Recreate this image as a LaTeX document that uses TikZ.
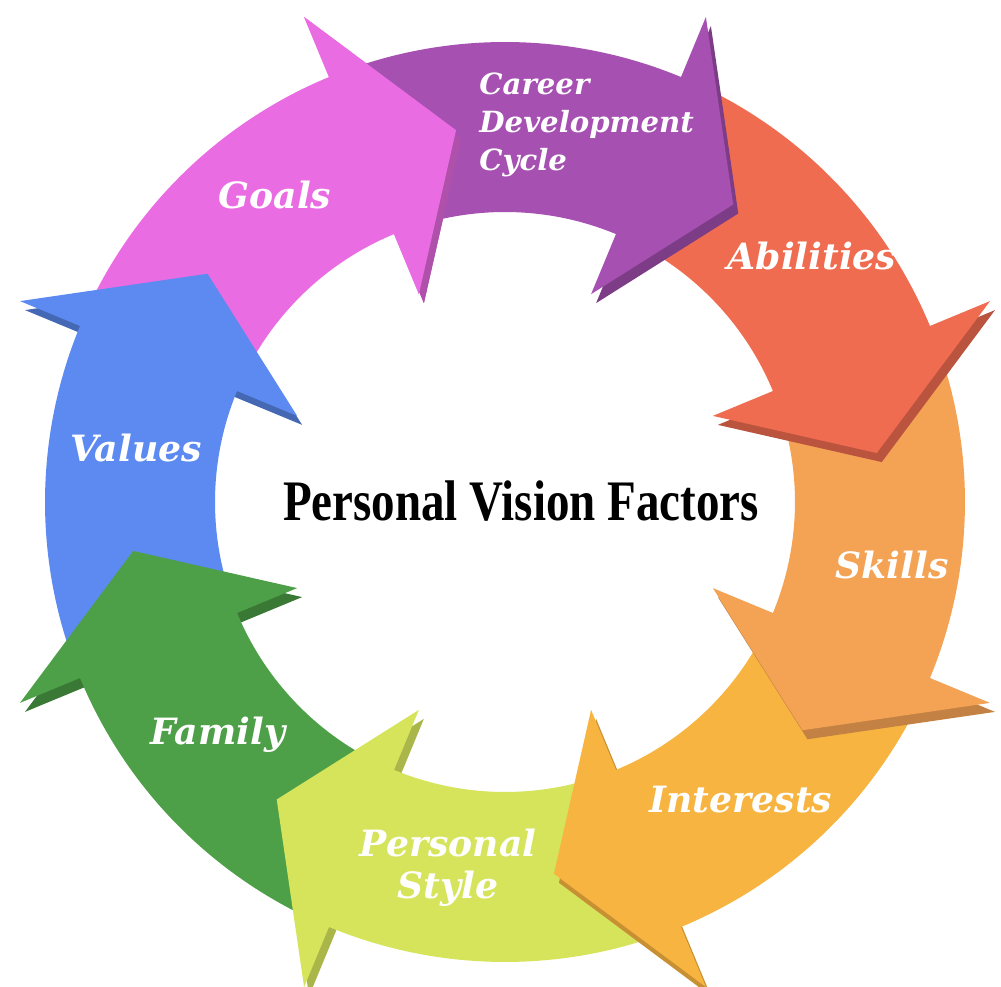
\documentclass[tikz,border=0pt]{standalone}
\usepackage{fontspec}
\newfontfamily\titlefont[FakeStretch=0.82]{Liberation Serif}
\newfontfamily\facfont{DejaVu Serif}
\definecolor{goalscol}{RGB}{234,108,226}
\definecolor{careercol}{RGB}{166,80,178}
\definecolor{abilcol}{RGB}{239,108,80}
\definecolor{skillcol}{RGB}{244,162,84}
\definecolor{intercol}{RGB}{247,180,64}
\definecolor{stylecol}{RGB}{214,228,92}
\definecolor{familycol}{RGB}{78,160,72}
\definecolor{valuecol}{RGB}{92,138,240}
\tikzset{
  side/.style={shift={(0.05,-0.09)}},
  fac/.style={text=white, font=\facfont\fontsize{10.3}{12}\selectfont\bfseries\itshape},
}
\begin{document}
\begin{tikzpicture}
\useasboundingbox (-5.05,-4.85) rectangle (4.96,5.02);
% goals
\fill[side, goalscol!75!black] (112.5:5.25) -- (97.5:3.75) -- (112.5:2.25) -- cycle;
\fill[goalscol] (155.5:4.6) arc[start angle=155.5, end angle=112.5, radius=4.6] -- (112.5:5.25) -- (97.5:3.75) -- (112.5:2.25) -- (112.5:2.9) arc[start angle=112.5, end angle=155.5, radius=2.9] -- cycle;
% values
\fill[side, valuecol!75!black] (157.5:5.25) -- (142.5:3.75) -- (157.5:2.25) -- cycle;
\fill[valuecol] (200.5:4.6) arc[start angle=200.5, end angle=157.5, radius=4.6] -- (157.5:5.25) -- (142.5:3.75) -- (157.5:2.25) -- (157.5:2.9) arc[start angle=157.5, end angle=200.5, radius=2.9] -- cycle;
% family
\fill[side, familycol!75!black] (202.5:5.25) -- (187.5:3.75) -- (202.5:2.25) -- cycle;
\fill[familycol] (245.5:4.6) arc[start angle=245.5, end angle=202.5, radius=4.6] -- (202.5:5.25) -- (187.5:3.75) -- (202.5:2.25) -- (202.5:2.9) arc[start angle=202.5, end angle=245.5, radius=2.9] -- cycle;
% personal style
\fill[side, stylecol!80!black] (247.5:5.25) -- (232.5:3.75) -- (247.5:2.25) -- cycle;
\fill[stylecol] (290.5:4.6) arc[start angle=290.5, end angle=247.5, radius=4.6] -- (247.5:5.25) -- (232.5:3.75) -- (247.5:2.25) -- (247.5:2.9) arc[start angle=247.5, end angle=290.5, radius=2.9] -- cycle;
% interests
\fill[side, intercol!80!black] (292.5:5.25) -- (277.5:3.75) -- (292.5:2.25) -- cycle;
\fill[intercol] (335.5:4.6) arc[start angle=335.5, end angle=292.5, radius=4.6] -- (292.5:5.25) -- (277.5:3.75) -- (292.5:2.25) -- (292.5:2.9) arc[start angle=292.5, end angle=335.5, radius=2.9] -- cycle;
% skills
\fill[side, skillcol!80!black] (337.5:5.25) -- (322.5:3.75) -- (337.5:2.25) -- cycle;
\fill[skillcol] (380.5:4.6) arc[start angle=380.5, end angle=337.5, radius=4.6] -- (337.5:5.25) -- (322.5:3.75) -- (337.5:2.25) -- (337.5:2.9) arc[start angle=337.5, end angle=380.5, radius=2.9] -- cycle;
% abilities
\fill[side, abilcol!78!black] (22.5:5.25) -- (7.5:3.75) -- (22.5:2.25) -- cycle;
\fill[abilcol] (65.5:4.6) arc[start angle=65.5, end angle=22.5, radius=4.6] -- (22.5:5.25) -- (7.5:3.75) -- (22.5:2.25) -- (22.5:2.9) arc[start angle=22.5, end angle=65.5, radius=2.9] -- cycle;
% career
\fill[side, careercol!75!black] (67.5:5.25) -- (52.5:3.75) -- (67.5:2.25) -- cycle;
\fill[careercol] (110.5:4.6) arc[start angle=110.5, end angle=67.5, radius=4.6] -- (67.5:5.25) -- (52.5:3.75) -- (67.5:2.25) -- (67.5:2.9) arc[start angle=67.5, end angle=110.5, radius=2.9] -- cycle;
% goals head once more, over the career tail
\fill[side, goalscol!75!black] (112.5:5.25) -- (97.5:3.75) -- (112.5:2.25) -- cycle;
\fill[goalscol] (112.5:5.25) -- (97.5:3.75) -- (112.5:2.25) -- cycle;
% labels
\node[fac] (fac1) at (-2.30,3.07) {Goals};
\node[fac, font=\facfont\fontsize{8.3}{10.7}\selectfont\bfseries\itshape, align=left, anchor=west] (fac2) at (-0.38,3.77) {Career\\Development\\Cycle};
\node[fac] (fac3) at (3.07,2.46) {Abilities};
\node[fac] (fac4) at (3.87,-0.63) {Skills};
\node[fac] (fac5) at (2.36,-2.98) {Interests};
\node[fac, align=center] (fac6) at (-0.57,-3.66) {Personal\\Style};
\node[fac] (fac7) at (-2.87,-2.33) {Family};
\node[fac] (fac8) at (-3.69,0.54) {Values};
\node[font=\titlefont\bfseries\fontsize{16.3}{18}\selectfont] (title) at (0.16,0.01) {Personal Vision Factors};
\end{tikzpicture}
\end{document}
